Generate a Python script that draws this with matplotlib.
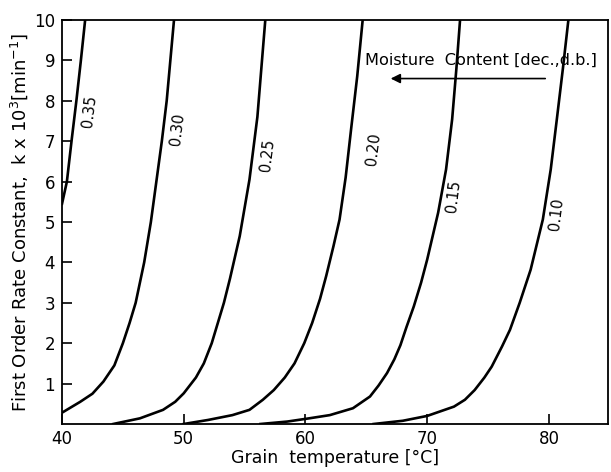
import matplotlib
matplotlib.use("Agg")
import matplotlib.pyplot as plt

# grain temperature (degC) and rate constant k*10^3 (1/min)
moisture = ["0.35", "0.30", "0.25", "0.20", "0.15", "0.10"]

temp_035 = [40.0, 40.4, 40.8, 41.18, 41.55, 41.9]
k_035 = [5.45, 6.0, 7.05, 8.0, 9.0, 10.0]

temp_030 = [40.0, 41.5, 42.5, 43.4, 44.3, 45.0, 45.55, 46.05, 46.75, 47.3, 47.75, 48.2, 48.6, 48.9, 49.2]
k_030 = [0.28, 0.55, 0.75, 1.05, 1.45, 2.0, 2.5, 3.0, 4.0, 5.0, 6.0, 7.0, 8.0, 9.0, 10.0]

temp_025 = [44.2, 46.4, 48.3, 49.3, 50.0, 51.0, 51.65, 52.3, 52.8, 53.3, 53.8, 54.6, 55.4, 56.05, 56.7]
k_025 = [0.0, 0.14, 0.35, 0.55, 0.76, 1.15, 1.5, 2.0, 2.5, 3.0, 3.6, 4.65, 6.05, 7.6, 10.0]

temp_020 = [50.0, 52.0, 54.0, 55.4, 56.5, 57.4, 58.3, 59.1, 59.9, 60.55, 61.2, 61.7, 62.3, 62.8, 63.3, 63.75, 64.25, 64.7]
k_020 = [0.0, 0.1, 0.22, 0.35, 0.6, 0.84, 1.15, 1.5, 2.0, 2.5, 3.1, 3.66, 4.4, 5.06, 6.1, 7.3, 8.6, 10.0]

temp_015 = [56.3, 58.5, 60.3, 62.0, 63.9, 65.3, 66.0, 66.7, 67.3, 67.8, 68.3, 68.9, 69.5, 70.0, 70.9, 71.55, 72.05, 72.4, 72.7]
k_015 = [0.0, 0.06, 0.14, 0.22, 0.39, 0.68, 0.95, 1.26, 1.6, 1.95, 2.4, 2.91, 3.5, 4.07, 5.23, 6.3, 7.54, 8.8, 10.0]

temp_010 = [65.6, 68.0, 70.0, 72.2, 73.1, 73.9, 74.7, 75.3, 76.15, 76.8, 77.6, 78.5, 79.5, 80.15, 80.65, 81.15, 81.6]
k_010 = [0.0, 0.08, 0.2, 0.43, 0.6, 0.84, 1.15, 1.42, 1.92, 2.33, 3.0, 3.82, 5.06, 6.3, 7.54, 8.8, 10.0]

# where the curve labels sit (temp, k)
label_temp = [42.25, 49.45, 56.85, 65.6, 72.15, 80.65]
label_k = [7.75, 7.3, 6.65, 6.8, 5.64, 5.19]

curves = [(temp_035, k_035), (temp_030, k_030), (temp_025, k_025),
          (temp_020, k_020), (temp_015, k_015), (temp_010, k_010)]

fig = plt.figure(figsize=(6.11, 4.72), dpi=100)
ax = fig.add_axes([0.1015, 0.1017, 0.8935, 0.856])

for (t, k) in curves:
    ax.plot(t, k, color="black", linewidth=1.9, solid_joinstyle="round")

for name, tx, ky in zip(moisture, label_temp, label_k):
    ax.text(tx, ky, name, rotation=83, ha="center", va="center", fontsize=10.5)

# moisture content annotation with arrow
ax.text(64.9, 8.99, "Moisture  Content [dec.,d.b.]",
        ha="left", va="center", fontsize=11.6)
ax.annotate("", xy=(67.0, 8.55), xytext=(79.7, 8.55),
            arrowprops=dict(arrowstyle="-|>", color="black", lw=1.2,
                            mutation_scale=14, shrinkA=0, shrinkB=0))

ax.set_xlim(40, 84.85)
ax.set_ylim(0, 10)
ax.set_xticks([40, 50, 60, 70, 80])
ax.set_yticks(range(1, 11))
ax.tick_params(direction="in", length=7, width=1.2, labelsize=12, pad=4)
ax.tick_params(axis="y", pad=5)
for s in ax.spines.values():
    s.set_linewidth(1.3)

ax.set_xlabel("Grain  temperature [°C]", fontsize=12.5, labelpad=1)
ax.set_ylabel(r"First Order Rate Constant,  k x 10$^3$$\left[\mathrm{min^{-1}}\right]$",
              fontsize=13, labelpad=3)

fig.savefig("out.png", dpi=100)
